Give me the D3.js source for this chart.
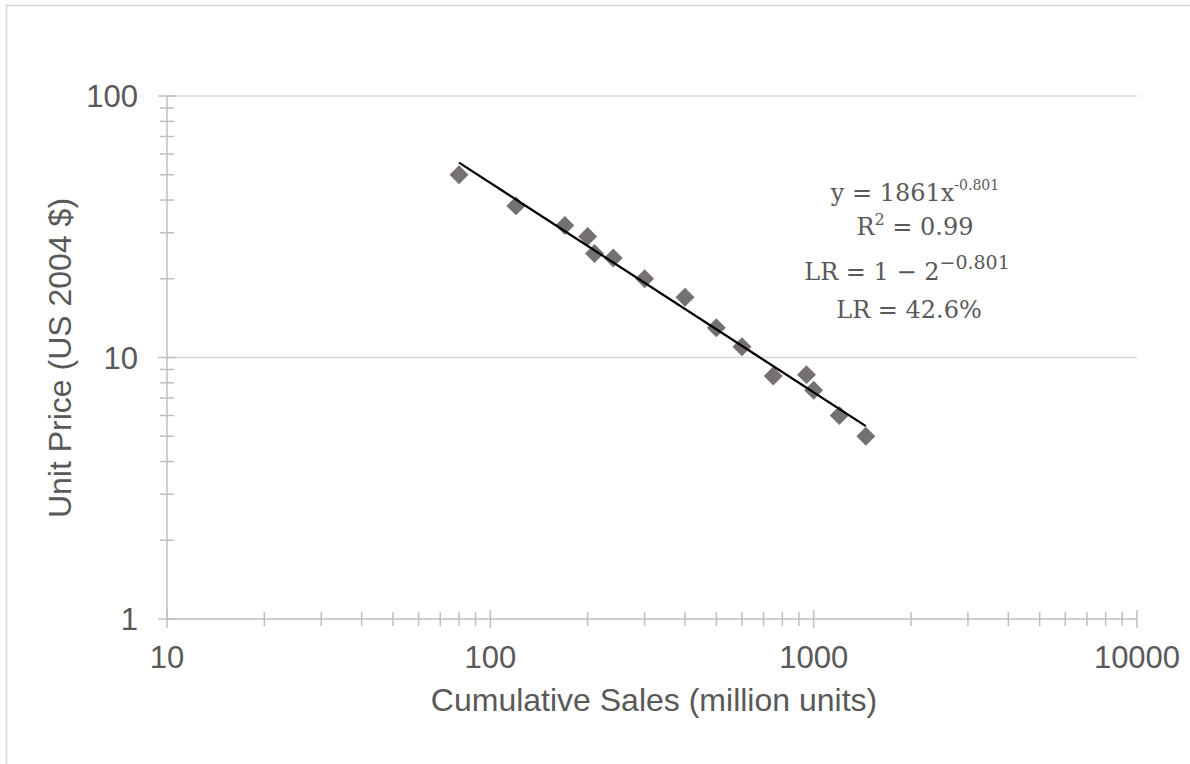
<!DOCTYPE html>
<meta charset="utf-8">
<script src="https://d3js.org/d3.v7.min.js"></script>
<style>
  body { margin: 0; background: #fff; }
  text { font-family: "Liberation Sans", Arial, sans-serif; fill: #595959; }
  text.eq { font-family: "DejaVu Serif", "Liberation Serif", serif; }
</style>
<div id="chart"></div>
<script>
    // data
    const sales = [80, 120, 170, 200, 210, 240, 300, 400, 500, 600, 750, 950, 1000, 1200, 1450];
    const price = [50, 38, 32, 29, 25, 24, 20, 17, 13, 11, 8.5, 8.6, 7.5, 6, 5];
    const xTicks = [10, 100, 1000, 10000];
    const yTicks = [1, 10, 100];
    // power trendline y = a * x^b
    const trendA = 1861, trendB = -0.801;
    const trendX = [80, 1450];

    const width = 1190, height = 764;
    const margin = {top: 96, right: 53, bottom: 145, left: 167};

    const svg = d3.select("#chart")
      .append("svg")
        .attr("width", width)
        .attr("height", height);

    // outer frame
    svg.append("rect")
      .attr("x", 6.5).attr("y", 5.5)
      .attr("width", 1300).attr("height", 900)
      .attr("fill", "none")
      .attr("stroke", "#d9d9d9")
      .attr("stroke-width", 1.5);

    const x = d3.scaleLog()
      .domain([10, 10000])
      .range([margin.left, width - margin.right]);
    const y = d3.scaleLog()
      .domain([1, 100])
      .range([height - margin.bottom, margin.top]);

    // minor ticks for every decade
    const minor = (lo, hi) => {
      const out = [];
      for (let d = lo; d < hi; d *= 10)
        for (let k = 2; k <= 9; k++) out.push(d * k);
      return out;
    };

    // horizontal gridlines
    svg.append("g")
      .selectAll("line")
      .data(yTicks.slice(1))
      .join("line")
        .attr("x1", x.range()[0]).attr("x2", x.range()[1])
        .attr("y1", d => y(d)).attr("y2", d => y(d))
        .attr("stroke", "#d9d9d9")
        .attr("stroke-width", 1.5);

    const axisColor = "#bfbfbf";

    // X axis
    const gx = svg.append("g");
    gx.append("line")
      .attr("x1", x.range()[0]).attr("x2", x.range()[1])
      .attr("y1", y(1)).attr("y2", y(1))
      .attr("stroke", axisColor).attr("stroke-width", 1.5);
    gx.selectAll(".minor")
      .data(minor(10, 10000))
      .join("line")
        .attr("x1", d => x(d)).attr("x2", d => x(d))
        .attr("y1", y(1) - 7).attr("y2", y(1) + 7)
        .attr("stroke", axisColor).attr("stroke-width", 1.5);
    gx.selectAll(".major")
      .data(xTicks)
      .join("line")
        .attr("x1", d => x(d)).attr("x2", d => x(d))
        .attr("y1", y(1) - 9).attr("y2", y(1) + 9)
        .attr("stroke", axisColor).attr("stroke-width", 1.5);
    gx.selectAll("text")
      .data(xTicks)
      .join("text")
        .attr("x", d => x(d))
        .attr("y", y(1) + 49)
        .attr("text-anchor", "middle")
        .attr("font-size", 31)
        .text(d => d);

    // Y axis
    const gy = svg.append("g");
    gy.append("line")
      .attr("x1", x(10)).attr("x2", x(10))
      .attr("y1", y(1)).attr("y2", y(100))
      .attr("stroke", axisColor).attr("stroke-width", 1.5);
    gy.selectAll(".minor")
      .data(minor(1, 100))
      .join("line")
        .attr("x1", x(10) - 7).attr("x2", x(10) + 7)
        .attr("y1", d => y(d)).attr("y2", d => y(d))
        .attr("stroke", axisColor).attr("stroke-width", 1.5);
    gy.selectAll(".major")
      .data(yTicks)
      .join("line")
        .attr("x1", x(10) - 9).attr("x2", x(10) + 9)
        .attr("y1", d => y(d)).attr("y2", d => y(d))
        .attr("stroke", axisColor).attr("stroke-width", 1.5);
    gy.selectAll("text")
      .data(yTicks)
      .join("text")
        .attr("x", x(10) - 29)
        .attr("y", d => y(d) + 11)
        .attr("text-anchor", "end")
        .attr("font-size", 31)
        .text(d => d);

    // axis titles
    svg.append("text")
      .attr("x", 654)
      .attr("y", 711)
      .attr("text-anchor", "middle")
      .attr("font-size", 32)
      .text("Cumulative Sales (million units)");
    svg.append("text")
      .attr("transform", "translate(71,358) rotate(-90)")
      .attr("text-anchor", "middle")
      .attr("font-size", 32)
      .text("Unit Price (US 2004 $)");

    // markers
    svg.append("g")
      .selectAll("path")
      .data(sales.map((s, i) => [s, price[i]]))
      .join("path")
        .attr("transform", d => `translate(${x(d[0])},${y(d[1])}) rotate(45)`)
        .attr("d", d3.symbol(d3.symbolSquare).size(180))
        .attr("fill", "#767171");

    // trendline
    svg.append("path")
      .datum(trendX.map(v => [v, trendA * Math.pow(v, trendB)]))
      .attr("fill", "none")
      .attr("stroke", "#000")
      .attr("stroke-width", 2.25)
      .attr("d", d3.line()
        .x(d => x(d[0]))
        .y(d => y(d[1])));

    // equation box
    const eq = svg.append("g")
      .attr("font-size", 24)
      .attr("text-anchor", "middle");
    const l1 = eq.append("text").attr("class", "eq").attr("x", 915).attr("y", 201);
    l1.append("tspan").text("y = 1861x");
    l1.append("tspan").attr("dy", -11).attr("font-size", 14).text("-0.801");
    const l2 = eq.append("text").attr("class", "eq").attr("x", 915).attr("y", 235);
    l2.append("tspan").text("R");
    l2.append("tspan").attr("dy", -10).attr("font-size", 16).text("2");
    l2.append("tspan").attr("dy", 10).text(" = 0.99");
    const l3 = eq.append("text").attr("class", "eq").attr("x", 907).attr("y", 280);
    l3.append("tspan").text("LR = 1 \u2212 2");
    l3.append("tspan").attr("dy", -11).attr("font-size", 19).text("\u22120.801");
    eq.append("text").attr("class", "eq").attr("x", 909).attr("y", 318).text("LR = 42.6%");
</script>
